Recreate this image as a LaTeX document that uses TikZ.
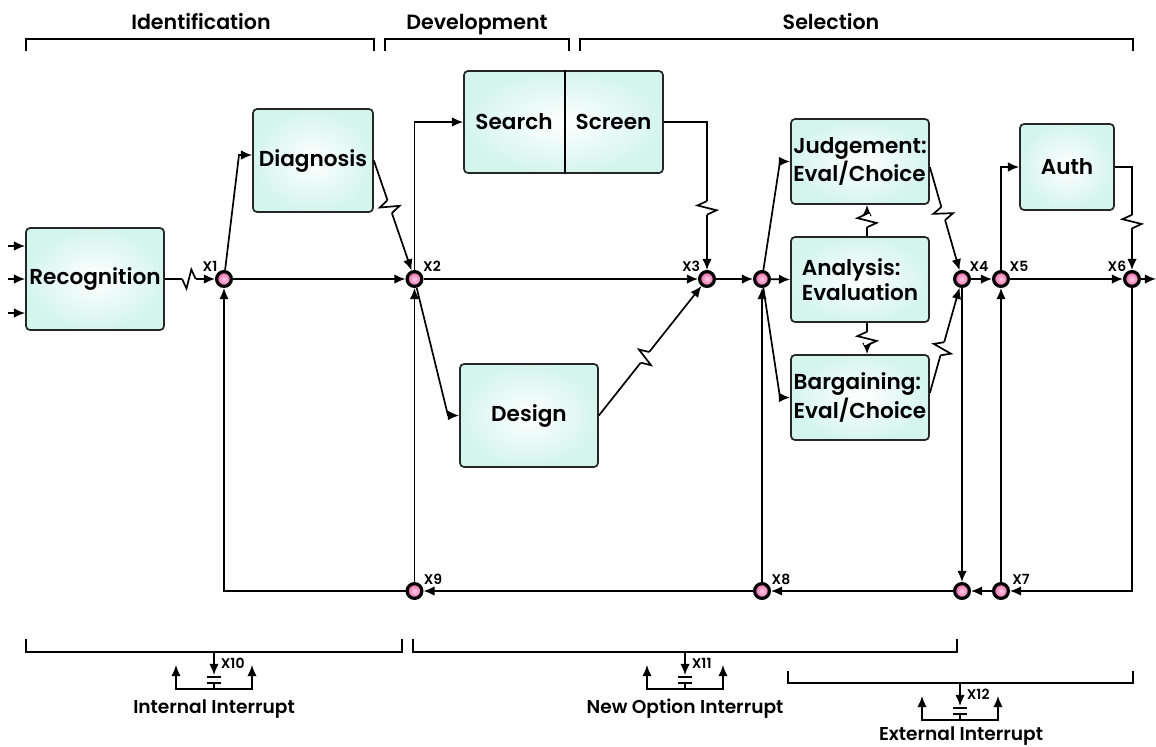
\documentclass[tikz,border=0pt]{standalone}
\usepackage{fontspec}
\setmainfont{Poppins}
\newfontfamily\pmed{Poppins SemiBold}
\usetikzlibrary{arrows.meta,calc,decorations.markings}
\definecolor{boxout}{RGB}{212,245,236}
\definecolor{pinkout}{RGB}{232,100,165}
\definecolor{pinkin}{RGB}{253,205,228}
\newcommand{\intsym}[4]{%
  \draw[arr] (#1,#2) -- (#1,#2+23);
  \draw (#1-7,#2+25) -- (#1+7,#2+25);
  \draw (#1-7,#2+31) -- (#1+7,#2+31);
  \draw (#1,#2+31) -- (#1,#2+37);
  \draw[arr] (#1,#2+37) -- (#1-38,#2+37) -- (#1-38,#2+13);
  \draw[arr] (#1,#2+37) -- (#1+38,#2+37) -- (#1+38,#2+13);
  \node[xlab,anchor=base west] (#3) at (#1+6,#2+16) {#4};
}
\begin{document}
\begin{tikzpicture}[x=0.5pt,y=-0.5pt,line width=0.85pt,
  arr/.style={-{Latex[length=5.6pt,width=4.8pt]}},
  box/.style={draw=black!85,line width=0.85pt,rounded corners=2pt,inner color=white,outer color=boxout,
     font=\pmed\fontsize{10.8}{12.5}\selectfont,align=left,inner sep=1pt},
  jn/.style={circle,draw=black,line width=1.6pt,minimum size=7.4pt,inner sep=0pt,inner color=pinkin,outer color=pinkout},
  xlab/.style={font=\pmed\fontsize{7}{8}\selectfont,inner sep=0pt},
  hdr/.style={font=\pmed\fontsize{10.3}{12}\selectfont,inner sep=0pt,anchor=base},
  ilab/.style={font=\pmed\fontsize{9.3}{11}\selectfont,inner sep=0pt,anchor=base},
  zz/.style={decorate,decoration={markings,mark=at position #1 with {
     \fill[white] (-3.4pt,-1.3pt) rectangle (3.4pt,1.3pt);
     \draw[black,line width=0.85pt,line join=miter] (-3.4pt,0) -- (-1.2pt,-4.8pt) -- (1.2pt,4.8pt) -- (3.4pt,0);}}}
]
\useasboundingbox (0,0) rectangle (1156,746);
% header brackets
\draw (26,51) -- (26,39) -- (374,39) -- (374,51);
\draw (385,51) -- (385,39) -- (569,39) -- (569,51);
\draw (580,51) -- (580,39) -- (1133,39) -- (1133,51);
\node[hdr] (hid) at (201,29) {Identification};
\node[hdr] (hdev) at (477,29) {Development};
\node[hdr] (hsel) at (831,29) {Selection};
% boxes
\node[box,minimum width=69pt,minimum height=51pt] (rec) at (95,279) {Recognition};
\node[box,minimum width=60pt,minimum height=51.5pt] (diag) at (313,160.5) {Diagnosis};
\node[box,minimum width=99.5pt,minimum height=51pt] (ss) at (563.5,122) {};
\node[minimum width=50pt,minimum height=51pt,inner sep=0pt,font=\pmed\fontsize{10.8}{12.5}\selectfont] (search) at (514,122) {Search};
\node[minimum width=49.5pt,minimum height=51pt,inner sep=0pt,font=\pmed\fontsize{10.8}{12.5}\selectfont] (screen) at (613.5,122) {Screen};
\draw[line width=0.85pt] (search.north east) -- (search.south east);
\node[box,minimum width=69pt,minimum height=51.5pt] (design) at (529,415.5) {Design};
\node[box,minimum width=69pt,minimum height=42.5pt] (judge) at (860,161.5) {Judgement:\\Eval/Choice};
\node[box,minimum width=69pt,minimum height=42.5pt] (ana) at (860,279.5) {Analysis:\\Evaluation};
\node[box,minimum width=69pt,minimum height=42.5pt] (barg) at (860,397.5) {Bargaining:\\Eval/Choice};
\node[box,minimum width=47pt,minimum height=43pt] (auth) at (1067,167) {Auth};
% junctions
\node[jn] (x1) at (224,279) {};
\node[jn] (x2) at (414.5,279) {};
\node[jn] (x3) at (707,279) {};
\node[jn] (jt) at (762,279) {};
\node[jn] (x4) at (962,279) {};
\node[jn] (x5) at (1001,279) {};
\node[jn] (x6) at (1132,279) {};
\node[jn] (x9) at (414.5,591) {};
\node[jn] (x8) at (762,591) {};
\node[jn] (jb) at (962,591) {};
\node[jn] (x7) at (1001,591) {};
\node[xlab,anchor=base] (lx1) at (210,271) {X1};
\node[xlab,anchor=base] (lx2) at (432,271) {X2};
\node[xlab,anchor=base] (lx3) at (691,271) {X3};
\node[xlab,anchor=base] (lx4) at (979,271) {X4};
\node[xlab,anchor=base] (lx5) at (1019,271) {X5};
\node[xlab,anchor=base] (lx6) at (1117,271) {X6};
\node[xlab,anchor=base] (lx9) at (433,584) {X9};
\node[xlab,anchor=base] (lx8) at (781,584) {X8};
\node[xlab,anchor=base] (lx7) at (1021,584) {X7};
% inputs
\coordinate (in1) at (8,246);
\coordinate (in2) at (8,279);
\coordinate (in3) at (8,313);
\draw[arr] (in1) -- (rec.west|-in1);
\draw[arr] (in2) -- (rec.west|-in2);
\draw[arr] (in3) -- (rec.west|-in3);
% connectors
\draw[arr] (rec.east) -- (x1);
\path[zz=0.48] (rec.east) -- (x1.west);
\coordinate (d1) at (239,155);
\draw[arr] (x1) -- (d1) -- (diag.west|-d1);
\draw[arr] (x1) -- (x2);
\draw[arr] (diag.east) -- (x2);
\path[zz=0.42] (diag.east) -- (x2);
\draw[arr] (x2) |- (search.west);
\coordinate (d2) at (448,415.5);
\draw[arr] (x2) -- (d2) -- (design.west);
\draw[arr] (x2) -- (x3);
\draw[arr] (screen.east) -| (x3);
\path[zz=0.58] (x3|-screen.east) -- (x3.north);
\draw[arr] (design.east) -- (x3);
\path[zz=0.45] (design.east) -- (x3);
\draw[arr] (x3) -- (jt);
\draw[arr] (jt) -- (ana.west);
\coordinate (d3) at (780,161.5);
\coordinate (d4) at (780,397.5);
\draw[arr] (jt) -- (d3) -- (judge.west);
\draw[arr] (jt) -- (d4) -- (barg.west);
\draw[arr] ([xshift=3.5pt]ana.north) -- ([xshift=3.5pt]judge.south);
\path[zz=0.5] ([xshift=3.5pt]ana.north) -- ([xshift=3.5pt]judge.south);
\draw[arr] ([xshift=3.5pt]ana.south) -- ([xshift=3.5pt]barg.north);
\path[zz=0.5] ([xshift=3.5pt]ana.south) -- ([xshift=3.5pt]barg.north);
\draw[arr] ([yshift=-2.75pt]judge.east) -- (x4);
\path[zz=0.45] ([yshift=-2.75pt]judge.east) -- (x4);
\draw[arr] ([yshift=2.25pt]barg.east) -- (x4);
\path[zz=0.42] ([yshift=2.25pt]barg.east) -- (x4);
\draw[arr] (x4) -- (x5);
\draw[arr] (x5) |- (auth.west);
\draw[arr] (x5) -- (x6);
\draw[arr] (auth.east) -| (x6);
\path[zz=0.53] (x6|-auth.east) -- (x6.north);
\coordinate (out) at (1156,279);
\draw[arr] (x6) -- (out);
\draw[arr] (x6) |- (x7);
\draw[arr] (x7) -- (jb);
\draw[arr] (x4) -- (jb);
\draw[arr] (x7) -- (x5);
\draw[arr] (jb) -- (x8);
\draw[arr] (x8) -- (jt);
\draw[arr] (x8) -- (x9);
\draw[arr] (x9) -- (x2);
\draw[arr] (x9) -| (x1);
% bottom brackets
\draw (26,639) -- (26,652) -- (402,652) -- (402,639);
\draw (413,639) -- (413,652) -- (957,652) -- (957,639);
\draw (788,671) -- (788,683) -- (1133,683) -- (1133,671);
\intsym{214}{652}{lx10}{X10}
\intsym{685}{652}{lx11}{X11}
\intsym{960}{683}{lx12}{X12}
\node[ilab] (int1) at (214,713) {Internal Interrupt};
\node[ilab] (int2) at (685,713) {New Option Interrupt};
\node[ilab] (int3) at (961,740) {External Interrupt};
\end{tikzpicture}
\end{document}
